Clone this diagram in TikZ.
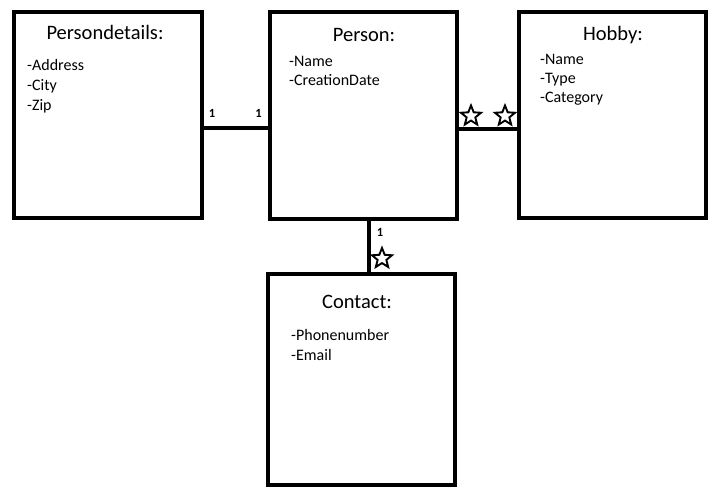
\documentclass[tikz,border=0pt]{standalone}
\usepackage{fontspec}
\setmainfont{Carlito}
\usetikzlibrary{shapes.geometric,positioning}

\tikzset{
  entity/.style={draw, line width=4pt, fill=white, inner sep=0},
  heading/.style={font=\fontsize{20.5}{24}\selectfont, inner sep=0},
  attrs/.style={font=\fontsize{16}{19.3}\selectfont, align=left, anchor=north west, inner sep=0},
  conn/.style={line width=4pt},
  mult/.style={font=\fontsize{12.5}{14}\selectfont\bfseries, inner sep=0},
  many/.style={star, star points=5, star point ratio=2.3, draw, line width=1.9pt, fill=white, minimum size=21pt, inner sep=0}
}

\begin{document}
\begin{tikzpicture}[x=1pt,y=-1pt]
  \useasboundingbox (0,0) rectangle (721,489);

  % Boxes
  \node[entity, minimum width=188pt, minimum height=206pt] (pd) at (108,115) {};
  \node[entity, minimum width=187.5pt, minimum height=207pt] (p) at (363.25,115.5) {};
  \node[entity, minimum width=187pt, minimum height=206pt] (h) at (612.5,115) {};
  \node[entity, minimum width=187pt, minimum height=210pt] (c) at (361.5,379.5) {};

  % Titles
  \node[heading] (pdt) at (105,32.7) {Persondetails:};
  \node[heading] (pt) at (364,35) {Person:};
  \node[heading] (ht) at (613,35) {Hobby:};
  \node[heading] (ct) at (357,301.7) {Contact:};

  % Attributes
  \node[attrs, font=\fontsize{16}{20}\selectfont] (pda) at (27,59.5) {-Address\\-City\\-Zip};
  \node[attrs] (pa) at (289,55.7) {-Name\\-CreationDate};
  \node[attrs, font=\fontsize{16}{18.8}\selectfont] (ha) at (540,54) {-Name\\-Type\\-Category};
  \node[attrs] (ca) at (291,329.5) {-Phonenumber\\-Email};

  % Connectors
  \draw[conn] ([yshift=-13.5pt]pd.east) -- ([yshift=-13.5pt]pd.east -| p.west);
  \draw[conn] ([yshift=-14pt]p.east) -- ([yshift=-14pt]p.east -| h.west);
  \draw[conn] ([xshift=5.25pt]p.south) -- ([xshift=5.25pt]p.south |- c.north);

  % Multiplicities
  \node[mult] (m1) at (212,113) {1};
  \node[mult] (m2) at (258.5,113) {1};
  \node[mult] (m3) at (380,232) {1};
  \node[many] (s1) at (471,116) {};
  \node[many] (s2) at (505,116) {};
  \node[many] (s3) at (382,258.5) {};
\end{tikzpicture}
\end{document}
